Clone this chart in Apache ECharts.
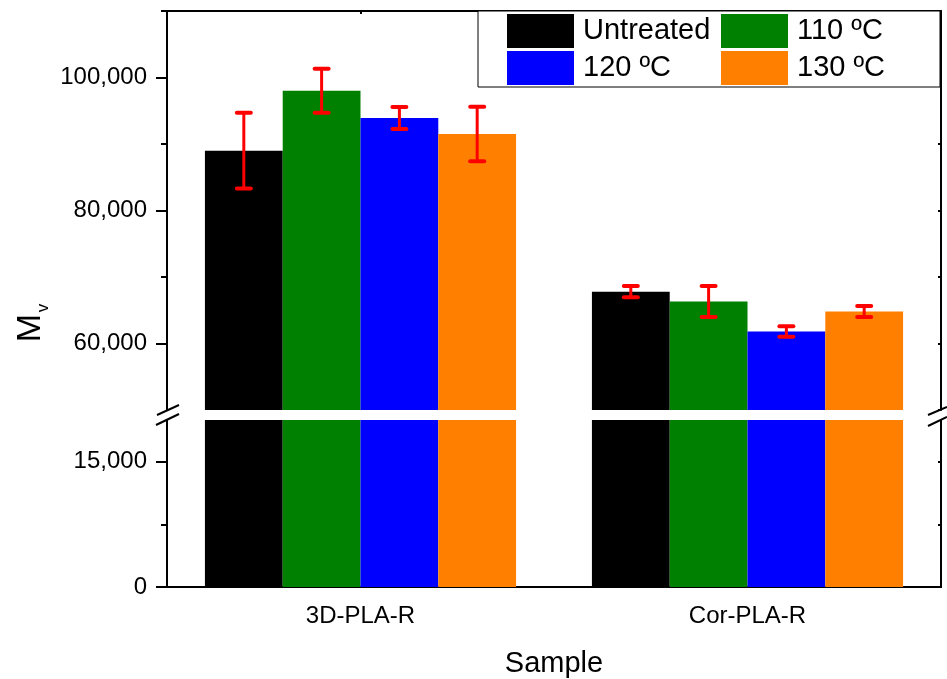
<!DOCTYPE html>
<html>
<head>
<meta charset="utf-8">
<script src="https://cdn.jsdelivr.net/npm/echarts@6/dist/echarts.min.js"></script>
<style>html,body{margin:0;padding:0;background:#fff;}#c{width:947px;height:679px;}</style>
</head>
<body>
<div id="c"></div>
<script>
const categories = ['3D-PLA-R', 'Cor-PLA-R'];
const seriesNames = ['Untreated', '110 ºC', '120 ºC', '130 ºC'];
const colors = ['#000000', '#008000', '#0000ff', '#ff8000'];
const untreated = [89000, 67800];
const t110 = [98000, 66300];
const t120 = [93900, 61800];
const t130 = [91500, 64800];
const errUntreated = [5700, 850];
const err110 = [3300, 2330];
const err120 = [1650, 800];
const err130 = [4100, 830];
const topLabelTicks = [60000, 80000, 100000];
const topMinorTicks = [70000, 90000, 110000];
const bottomLabelTicks = [0, 15000];
const bottomMinorTicks = [7500];
const bottomRightTicks = [0, 7500, 15000];

const values = [untreated, t110, t120, t130];
const errors = [errUntreated, err110, err120, err130];
const FONT = 'Liberation Sans, Arial, sans-serif';
const GAP = 0.196;
const LW = 2;
const AX = { lineStyle: { color: '#000', width: LW } };
const TK = { color: '#000', width: LW };

function fmt(v) { return String(v).replace(/\B(?=(\d{3})+(?!\d))/g, ','); }

function renderErr(params, api) {
  const cat = api.value(0), lo = api.value(1), hi = api.value(2), s = api.value(3);
  const band = api.size([1, 0])[0];
  const barW = band * (1 - GAP) / 4;
  const x = api.coord([cat, lo])[0] + (s - 1.5) * barW;
  const yLo = api.coord([cat, lo])[1];
  const yHi = api.coord([cat, hi])[1];
  const cap = 7;
  const st = { stroke: '#ff0000', lineWidth: 3 };
  const cs = { stroke: '#ff0000', lineWidth: 4, lineCap: 'round' };
  return {
    type: 'group',
    children: [
      { type: 'line', shape: { x1: x, y1: yLo, x2: x, y2: yHi }, style: st },
      { type: 'line', shape: { x1: x - cap, y1: yHi, x2: x + cap, y2: yHi }, style: cs },
      { type: 'line', shape: { x1: x - cap, y1: yLo, x2: x + cap, y2: yLo }, style: cs }
    ]
  };
}

const errData = [];
values.forEach((arr, s) => {
  arr.forEach((v, c) => { errData.push([c, v - errors[s][c], v + errors[s][c], s]); });
});

const series = [];
seriesNames.forEach((n, s) => {
  series.push({ name: n, type: 'bar', xAxisIndex: 0, yAxisIndex: 0, data: values[s],
    barGap: '0%', barCategoryGap: (GAP * 100) + '%', itemStyle: { color: colors[s] }, clip: true, z: 2 });
});
seriesNames.forEach((n, s) => {
  series.push({ name: n, type: 'bar', xAxisIndex: 2, yAxisIndex: 3, data: values[s],
    barGap: '0%', barCategoryGap: (GAP * 100) + '%', itemStyle: { color: colors[s] }, clip: true, z: 2 });
});
series.push({ type: 'custom', xAxisIndex: 0, yAxisIndex: 0, renderItem: renderErr, data: errData,
  encode: { x: 0, y: [1, 2] }, z: 5, silent: true });

const chart = echarts.init(document.getElementById('c'), null, { renderer: 'canvas' });
chart.setOption({
  animation: false,
  backgroundColor: '#fff',
  textStyle: { fontFamily: FONT, color: '#000' },
  grid: [
    { left: 167, right: 6, top: 11, height: 399 },
    { left: 167, right: 6, top: 420, height: 168 }
  ],
  legend: {
    data: seriesNames, left: 478, top: 11, width: 430,
    padding: [3, 8, 2, 29], itemGap: 3, itemWidth: 67, itemHeight: 34,
    icon: 'rect', selectedMode: false, orient: 'horizontal',
    backgroundColor: '#fff', borderColor: '#000', borderWidth: 1, z: 10,
    textStyle: { fontFamily: FONT, fontSize: 29, color: '#000', width: 135, padding: [0, 0, 0, 4], lineHeight: 34 }
  },
  xAxis: [
    { type: 'category', gridIndex: 0, data: categories, show: false },
    { type: 'value', gridIndex: 0, position: 'top', min: 0, max: 4, interval: 1,
      axisLine: AX, axisTick: { inside: true, length: 3, lineStyle: TK },
      axisLabel: { show: false }, splitLine: { show: false } },
    { type: 'category', gridIndex: 1, data: categories, position: 'bottom',
      axisLine: AX, axisTick: { alignWithLabel: true, length: 12, lineStyle: TK },
      axisLabel: { fontSize: 24, color: '#000', margin: 17, fontFamily: FONT },
      name: 'Sample', nameLocation: 'middle', nameGap: 62,
      nameTextStyle: { fontSize: 29, color: '#000', fontFamily: FONT } },
    { type: 'category', gridIndex: 1, data: categories, position: 'bottom',
      axisLine: AX, axisTick: { length: 6, lineStyle: TK },
      axisLabel: { show: false } }
  ],
  yAxis: [
    { type: 'value', gridIndex: 0, min: 50000, max: 110000, position: 'left',
      axisLine: { show: true, lineStyle: TK },
      axisTick: { show: true, length: 11, customValues: topLabelTicks, lineStyle: TK },
      axisLabel: { customValues: topLabelTicks, formatter: fmt, fontSize: 24, color: '#000', margin: 20, fontFamily: FONT },
      splitLine: { show: false } },
    { type: 'value', gridIndex: 0, min: 50000, max: 110000, position: 'left',
      axisLine: { show: true, lineStyle: TK },
      axisTick: { show: true, length: 6, customValues: topMinorTicks, lineStyle: TK },
      axisLabel: { show: false }, splitLine: { show: false } },
    { type: 'value', gridIndex: 0, min: 50000, max: 110000, interval: 10000, position: 'right',
      axisLine: { show: true, lineStyle: TK },
      axisTick: { show: true, inside: true, length: 3, lineStyle: TK },
      axisLabel: { show: false }, splitLine: { show: false } },
    { type: 'value', gridIndex: 1, min: 0, max: 20000, position: 'left',
      axisLine: { show: true, lineStyle: TK },
      axisTick: { show: true, length: 11, customValues: bottomLabelTicks, lineStyle: TK },
      axisLabel: { customValues: bottomLabelTicks, formatter: fmt, fontSize: 24, color: '#000', margin: 20, fontFamily: FONT },
      splitLine: { show: false } },
    { type: 'value', gridIndex: 1, min: 0, max: 20000, position: 'left',
      axisLine: { show: true, lineStyle: TK },
      axisTick: { show: true, length: 6, customValues: bottomMinorTicks, lineStyle: TK },
      axisLabel: { show: false }, splitLine: { show: false } },
    { type: 'value', gridIndex: 1, min: 0, max: 20000, position: 'right',
      axisLine: { show: true, lineStyle: TK },
      axisTick: { show: true, inside: true, length: 3, customValues: bottomRightTicks, lineStyle: TK },
      axisLabel: { show: false }, splitLine: { show: false } }
  ],
  graphic: [
    { type: 'text', x: 31, y: 328, rotation: Math.PI / 2,
      style: { text: 'M', align: 'center', verticalAlign: 'middle', fill: '#000', fontSize: 34, fontFamily: FONT } },
    { type: 'text', x: 43, y: 308, rotation: Math.PI / 2,
      style: { text: 'v', align: 'center', verticalAlign: 'middle', fill: '#000', fontSize: 17, fontFamily: FONT } },
    { type: 'line', shape: { x1: 157, y1: 415, x2: 179, y2: 405 }, style: { stroke: '#000', lineWidth: 2 }, z: 20 },
    { type: 'line', shape: { x1: 156, y1: 425, x2: 179, y2: 414 }, style: { stroke: '#000', lineWidth: 2 }, z: 20 },
    { type: 'line', shape: { x1: 928, y1: 415, x2: 947, y2: 407 }, style: { stroke: '#000', lineWidth: 2 }, z: 20 },
    { type: 'line', shape: { x1: 928, y1: 426, x2: 947, y2: 417 }, style: { stroke: '#000', lineWidth: 2 }, z: 20 }
  ],
  series: series
});
</script>
</body>
</html>
